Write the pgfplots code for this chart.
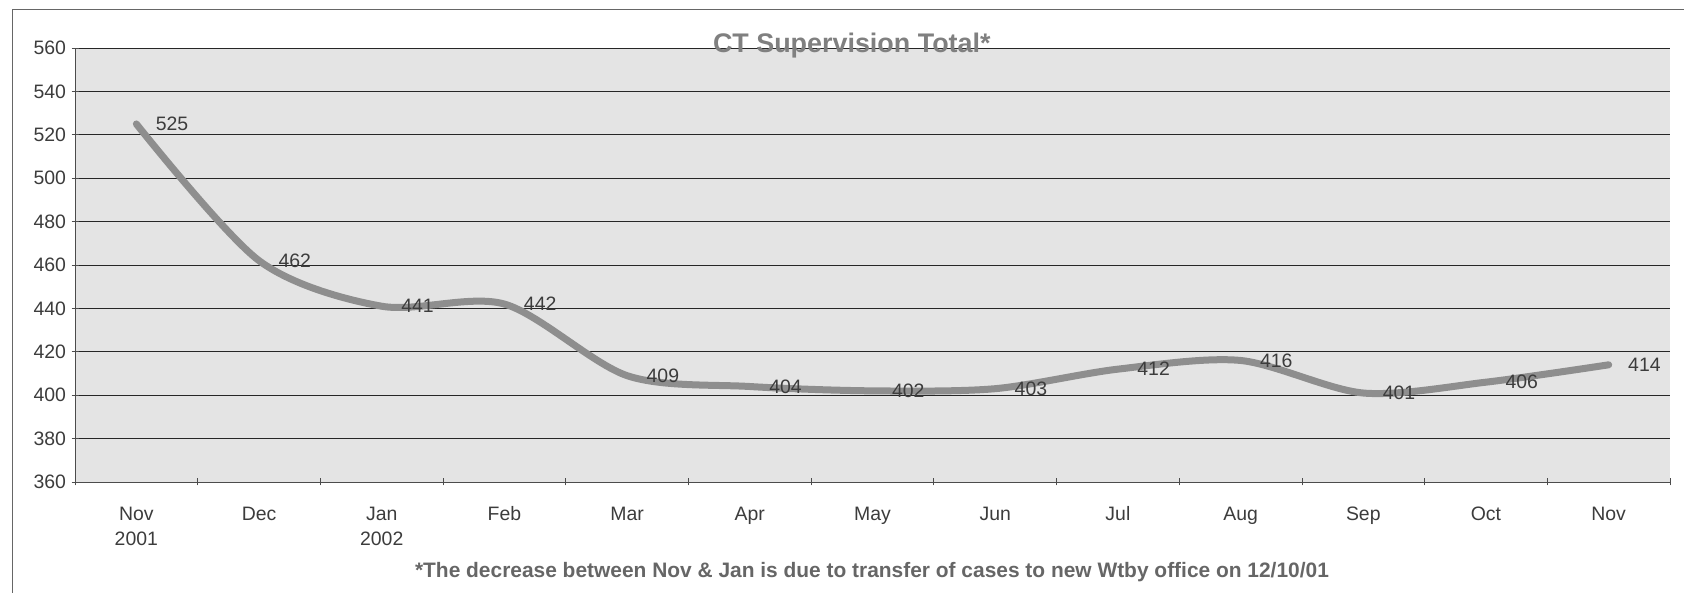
\documentclass[border=0pt]{standalone}
\usepackage{pgfplots}
\pgfplotsset{compat=1.18}
\usepackage{fontspec}
\setmainfont{Liberation Sans}
\definecolor{linegray}{HTML}{8E8E8E}
\definecolor{bggray}{HTML}{E4E4E4}
\definecolor{txtgray}{HTML}{3C3C3C}
\begin{document}
\begin{tikzpicture}[x=1bp,y=1bp]
\useasboundingbox (0,0) rectangle (1684,593);
\draw[black!60, line width=1bp] (12,0) -- (12,583) -- (1684,583);
\begin{axis}[
  at={(75bp,111bp)}, anchor=south west, scale only axis,
  width=1595bp, height=434bp,
  xmin=-0.5, xmax=12.5, ymin=360, ymax=560,
  ytick={360,380,...,560},
  xtick={0,...,12},
  xticklabels={{\strut Nov\\2001},{\strut Dec},{\strut Jan\\2002},{\strut Feb},{\strut Mar},{\strut Apr},{\strut May},{\strut Jun},{\strut Jul},{\strut Aug},{\strut Sep},{\strut Oct},{\strut Nov}},
  xticklabel style={align=center, font=\fontsize{19.5}{25}\selectfont, text=txtgray, yshift=-14.5bp},
  yticklabel style={font=\fontsize{19.5}{22}\selectfont, text=txtgray, xshift=-2bp},
  major x tick style={draw=none},
  minor xtick={-0.5,0.5,...,12.5},
  minor tick length=7bp, major tick length=7bp,
  tick align=outside,
  tick style={black!70, line width=0.8bp},
  axis background/.style={fill=bggray},
  ymajorgrids, grid style={black!85, line width=0.9bp},
  axis x line=bottom, axis y line=left,
  axis line style={-, black!70, line width=0.9bp},
  /pgf/number format/assume math mode=true,
  clip=false,
]
\addplot[draw=none, nodes near coords,
  nodes near coords style={anchor=west, xshift=16bp, font=\fontsize{19.5}{22}\selectfont, text=txtgray,
    /pgf/number format/fixed, /pgf/number format/precision=0, /pgf/number format/assume math mode=true}]
  coordinates {(0,525) (1,462) (2,441) (3,442) (4,409) (5,404) (6,402) (7,403) (8,412) (9,416) (10,401) (11,406) (12,414)};
\addplot[linegray, line width=7bp, smooth, line cap=round, no markers]
  coordinates {(0,525) (1,462) (2,441) (3,442) (4,409) (5,404) (6,402) (7,403) (8,412) (9,416) (10,401) (11,406) (12,414)};
\node[font=\bfseries\fontsize{27}{30}\selectfont, text=black!50, anchor=center] at (rel axis cs:0.487,1) [yshift=2bp] {CT Supervision Total*};
\end{axis}
\node[font=\bfseries\fontsize{21}{24}\selectfont, text=black!60] at (872,21) {*The decrease between Nov \& Jan is due to transfer of cases to new Wtby office on 12/10/01};
\end{tikzpicture}
\end{document}
